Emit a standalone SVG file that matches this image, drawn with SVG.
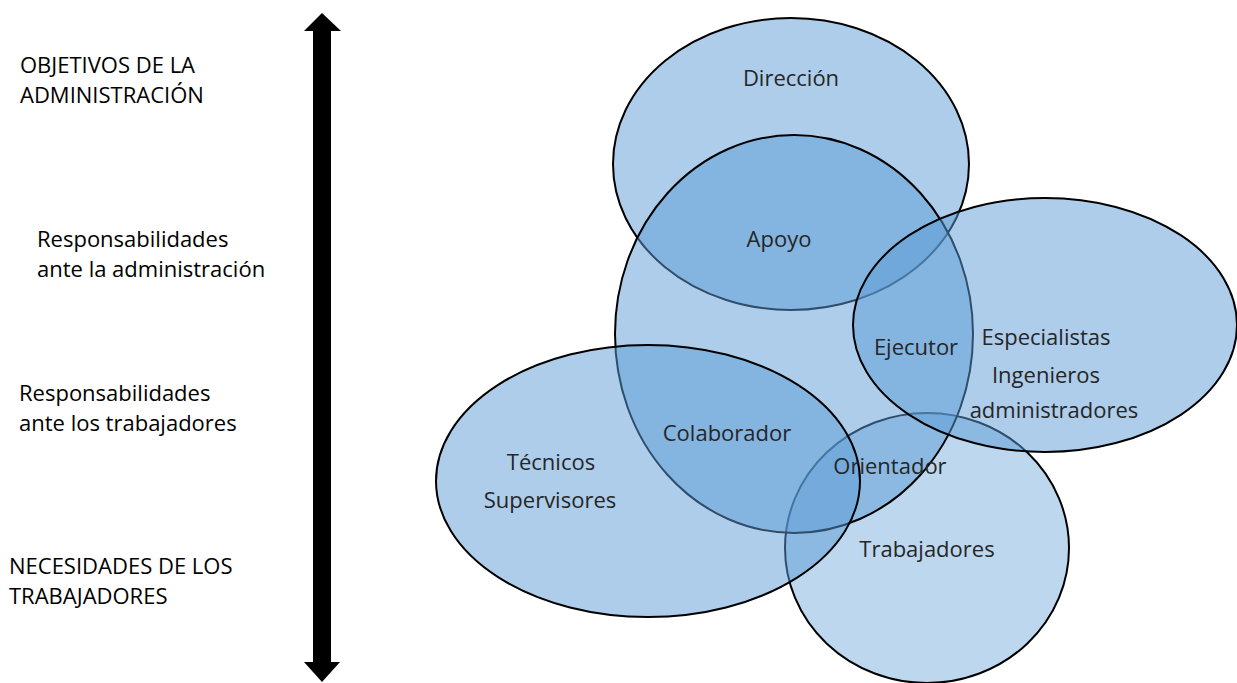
<svg xmlns="http://www.w3.org/2000/svg" width="1237" height="683" viewBox="0 0 1237 683">
<style>
.e{fill:#5b9bd5;fill-opacity:0.5;stroke:#000;stroke-width:2}
.lt{fill-opacity:0.4}
.t{font-family:"Open Sans",Lato,sans-serif;font-size:22px;fill:#262626;text-anchor:middle}
.l{font-family:"Open Sans",Lato,sans-serif;font-size:22px;fill:#000}
</style>
<rect width="1237" height="683" fill="#fff"/>
<g id="axis">
<polygon points="322,13 341,31 331,31 331,662 340,662 322,682 304,662 313,662 313,31 304,31" fill="#000"/>
</g>
<g id="left-labels">
<text class="l" x="20" y="73">OBJETIVOS DE LA</text>
<text class="l" x="20" y="103">ADMINISTRACIÓN</text>
<text class="l" x="37" y="247">Responsabilidades</text>
<text class="l" x="37" y="277">ante la administración</text>
<text class="l" x="19" y="401">Responsabilidades</text>
<text class="l" x="19" y="431">ante los trabajadores</text>
<text class="l" x="9" y="574">NECESIDADES DE LOS</text>
<text class="l" x="9" y="604">TRABAJADORES</text>
</g>
<g id="trabajadores"><ellipse class="e lt" cx="927" cy="548" rx="142" ry="135"/></g>
<g id="direccion"><ellipse class="e" cx="791" cy="164" rx="178" ry="146"/></g>
<g id="centro"><ellipse class="e" cx="794" cy="334" rx="179" ry="199"/></g>
<g id="tecnicos"><ellipse class="e" cx="648" cy="481" rx="212" ry="136"/></g>
<g id="especialistas"><ellipse class="e" cx="1045" cy="325" rx="192" ry="127"/></g>
<g id="labels">
<text class="t" x="791" y="86">Dirección</text>
<text class="t" x="779" y="247">Apoyo</text>
<text class="t" x="916" y="355">Ejecutor</text>
<text class="t" x="1046" y="345">Especialistas</text>
<text class="t" x="1046" y="383">Ingenieros</text>
<text class="t" x="1054" y="418">administradores</text>
<text class="t" x="727" y="441">Colaborador</text>
<text class="t" x="551" y="470">Técnicos</text>
<text class="t" x="550" y="508">Supervisores</text>
<text class="t" x="890" y="474">Orientador</text>
<text class="t" x="927" y="557">Trabajadores</text>
</g>
</svg>
